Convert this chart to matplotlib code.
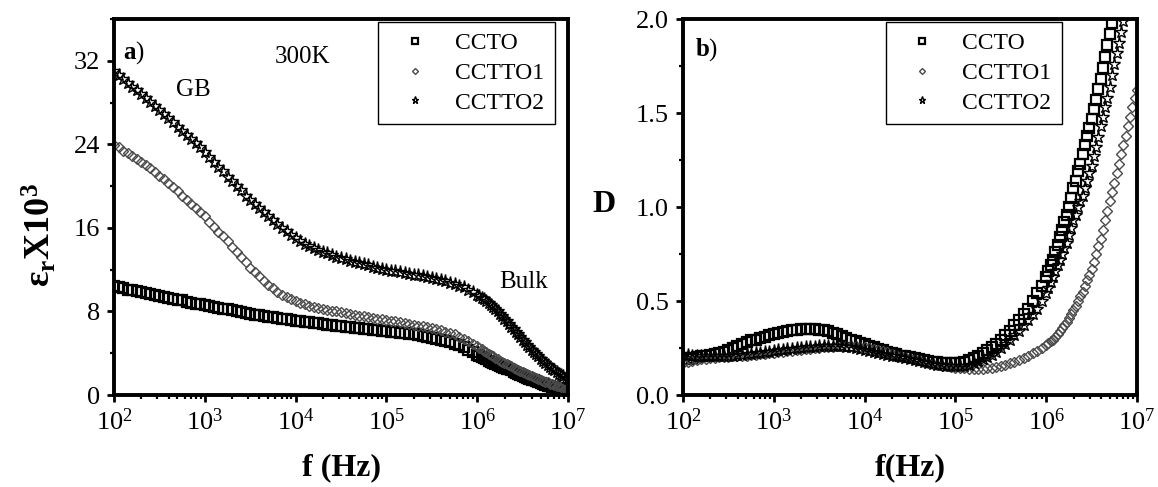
#!/usr/bin/env python3
"""Dielectric constant and loss vs frequency for CCTO, CCTTO1 and CCTTO2 at 300 K."""

from __future__ import annotations

import matplotlib

matplotlib.use("Agg")
import matplotlib.pyplot as plt
import numpy as np
from matplotlib.ticker import LogLocator, MultipleLocator, NullFormatter


# log10 of frequency (Hz); finer sampling above 1 MHz
LOG_F = [
    2.00, 2.05, 2.10, 2.15, 2.20, 2.25, 2.30, 2.35, 2.40, 2.45,
    2.50, 2.55, 2.60, 2.65, 2.70, 2.75, 2.80, 2.85, 2.90, 2.95,
    3.00, 3.05, 3.10, 3.15, 3.20, 3.25, 3.30, 3.35, 3.40, 3.45,
    3.50, 3.55, 3.60, 3.65, 3.70, 3.75, 3.80, 3.85, 3.90, 3.95,
    4.00, 4.05, 4.10, 4.15, 4.20, 4.25, 4.30, 4.35, 4.40, 4.45,
    4.50, 4.55, 4.60, 4.65, 4.70, 4.75, 4.80, 4.85, 4.90, 4.95,
    5.00, 5.05, 5.10, 5.15, 5.20, 5.25, 5.30, 5.35, 5.40, 5.45,
    5.50, 5.55, 5.60, 5.65, 5.70, 5.75, 5.80, 5.85, 5.90, 5.95,
    6.00,
    6.025, 6.05, 6.075, 6.10, 6.125, 6.15, 6.175, 6.20, 6.225, 6.25,
    6.275, 6.30, 6.325, 6.35, 6.375, 6.40, 6.425, 6.45, 6.475, 6.50,
    6.525, 6.55, 6.575, 6.60, 6.625, 6.65, 6.675, 6.70, 6.725, 6.75,
    6.775, 6.80, 6.825, 6.85, 6.875, 6.90, 6.925, 6.95, 6.975, 7.00,
]

LABELS = ["CCTO", "CCTTO1", "CCTTO2"]

# eps_r x 10^3
EPS_CCTO = [
    10.4, 10.3, 10.2, 10.1, 10.05, 9.95, 9.85, 9.75, 9.65, 9.6,
    9.5, 9.4, 9.3, 9.2, 9.1, 9.05, 8.95, 8.85, 8.75, 8.7,
    8.6, 8.5, 8.4, 8.35, 8.25, 8.2, 8.1, 8.0, 7.95, 7.85,
    7.8, 7.7, 7.65, 7.55, 7.5, 7.45, 7.35, 7.3, 7.25, 7.15,
    7.1, 7.05, 7.0, 6.95, 6.9, 6.85, 6.8, 6.75, 6.7, 6.65,
    6.6, 6.55, 6.5, 6.45, 6.4, 6.35, 6.3, 6.25, 6.2, 6.15,
    6.1, 6.05, 6.0, 5.95, 5.9, 5.85, 5.8, 5.7, 5.65, 5.55,
    5.5, 5.4, 5.3, 5.2, 5.05, 4.9, 4.75, 4.55, 4.35, 4.1,
    3.85,
    3.75, 3.6, 3.5, 3.4, 3.3, 3.2, 3.1, 3.0, 2.9, 2.8,
    2.7, 2.6, 2.5, 2.45, 2.35, 2.25, 2.15, 2.05, 1.95, 1.85,
    1.75, 1.65, 1.55, 1.45, 1.4, 1.3, 1.2, 1.15, 1.05, 1.0,
    0.9, 0.85, 0.8, 0.75, 0.7, 0.65, 0.6, 0.55, 0.5, 0.45,
]
EPS_CCTTO1 = [
    23.9, 23.7, 23.4, 23.2, 22.9, 22.6, 22.3, 22.0, 21.7, 21.35,
    21.0, 20.65, 20.3, 19.9, 19.5, 19.1, 18.7, 18.3, 17.9, 17.5,
    17.1, 16.6, 16.1, 15.6, 15.2, 14.7, 14.2, 13.7, 13.2, 12.7,
    12.2, 11.8, 11.35, 10.95, 10.55, 10.2, 9.9, 9.6, 9.4, 9.2,
    9.0, 8.85, 8.7, 8.55, 8.45, 8.35, 8.25, 8.15, 8.05, 8.0,
    7.9, 7.85, 7.75, 7.7, 7.6, 7.55, 7.45, 7.4, 7.3, 7.25,
    7.2, 7.1, 7.05, 6.95, 6.9, 6.8, 6.75, 6.65, 6.6, 6.5,
    6.4, 6.3, 6.2, 6.05, 5.95, 5.8, 5.6, 5.4, 5.2, 4.9,
    4.65,
    4.5, 4.4, 4.25, 4.1, 3.95, 3.8, 3.7, 3.55, 3.45, 3.3,
    3.2, 3.05, 2.95, 2.85, 2.75, 2.6, 2.5, 2.4, 2.3, 2.2,
    2.1, 2.0, 1.9, 1.8, 1.7, 1.6, 1.5, 1.4, 1.35, 1.25,
    1.2, 1.1, 1.05, 1.0, 0.9, 0.85, 0.8, 0.75, 0.7, 0.65,
]
EPS_CCTTO2 = [
    31.0, 30.6, 30.3, 29.9, 29.5, 29.2, 28.8, 28.4, 28.1, 27.7,
    27.3, 26.9, 26.5, 26.1, 25.7, 25.3, 24.9, 24.5, 24.1, 23.7,
    23.3, 22.8, 22.3, 21.8, 21.4, 20.9, 20.5, 20.0, 19.6, 19.1,
    18.7, 18.3, 17.9, 17.5, 17.1, 16.8, 16.4, 16.0, 15.7, 15.3,
    15.0, 14.75, 14.5, 14.3, 14.1, 13.9, 13.7, 13.55, 13.4, 13.25,
    13.1, 13.0, 12.85, 12.75, 12.6, 12.5, 12.4, 12.3, 12.2, 12.1,
    12.0, 11.9, 11.85, 11.75, 11.7, 11.6, 11.5, 11.45, 11.35, 11.3,
    11.2, 11.1, 11.0, 10.9, 10.75, 10.6, 10.45, 10.3, 10.1, 9.85,
    9.6,
    9.45, 9.3, 9.15, 9.0, 8.8, 8.6, 8.4, 8.2, 8.0, 7.8,
    7.55, 7.3, 7.05, 6.8, 6.55, 6.3, 6.05, 5.8, 5.55, 5.3,
    5.05, 4.8, 4.6, 4.35, 4.1, 3.9, 3.7, 3.45, 3.25, 3.05,
    2.85, 2.7, 2.5, 2.35, 2.2, 2.05, 1.9, 1.8, 1.65, 1.55,
]

# loss tangent D
D_CCTO = [
    0.19, 0.19, 0.195, 0.2, 0.205, 0.21, 0.215, 0.22, 0.225, 0.23,
    0.24, 0.25, 0.26, 0.27, 0.28, 0.29, 0.295, 0.305, 0.31, 0.32,
    0.325, 0.33, 0.335, 0.34, 0.345, 0.348, 0.35, 0.352, 0.352, 0.35,
    0.348, 0.345, 0.34, 0.33, 0.325, 0.315, 0.305, 0.295, 0.285, 0.275,
    0.27, 0.26, 0.255, 0.245, 0.24, 0.23, 0.225, 0.22, 0.21, 0.205,
    0.2, 0.195, 0.19, 0.185, 0.18, 0.178, 0.175, 0.172, 0.17, 0.17,
    0.17, 0.172, 0.175, 0.185, 0.195, 0.21, 0.225, 0.24, 0.255, 0.27,
    0.29, 0.32, 0.34, 0.37, 0.40, 0.43, 0.46, 0.50, 0.54, 0.58,
    0.63,
    0.66, 0.69, 0.72, 0.76, 0.8, 0.84, 0.88, 0.92, 0.96, 1.0,
    1.05, 1.1, 1.14, 1.19, 1.23, 1.28, 1.33, 1.38, 1.42, 1.47,
    1.52, 1.57, 1.63, 1.68, 1.74, 1.8, 1.86, 1.92, 1.98, 2.05,
    2.12, 2.2, 2.28, 2.36, 2.44, 2.52, 2.6, 2.7, 2.8, 2.9,
]
D_CCTTO1 = [
    0.17, 0.175, 0.18, 0.185, 0.19, 0.19, 0.195, 0.195, 0.2, 0.2,
    0.2, 0.205, 0.205, 0.21, 0.21, 0.215, 0.215, 0.22, 0.22, 0.225,
    0.225, 0.23, 0.23, 0.235, 0.235, 0.24, 0.24, 0.245, 0.245, 0.25,
    0.25, 0.255, 0.255, 0.255, 0.26, 0.26, 0.26, 0.26, 0.26, 0.255,
    0.255, 0.25, 0.245, 0.24, 0.235, 0.23, 0.22, 0.215, 0.21, 0.2,
    0.195, 0.19, 0.185, 0.178, 0.172, 0.166, 0.16, 0.156, 0.152, 0.148,
    0.145, 0.143, 0.141, 0.14, 0.139, 0.139, 0.14, 0.142, 0.145, 0.15,
    0.155, 0.162, 0.17, 0.178, 0.188, 0.198, 0.21, 0.222, 0.236, 0.25,
    0.266,
    0.275, 0.285, 0.295, 0.31, 0.325, 0.34, 0.355, 0.37, 0.39, 0.41,
    0.43, 0.45, 0.475, 0.5, 0.525, 0.55, 0.58, 0.61, 0.64, 0.67,
    0.71, 0.75, 0.79, 0.83, 0.88, 0.93, 0.98, 1.03, 1.08, 1.13,
    1.18, 1.23, 1.28, 1.33, 1.38, 1.43, 1.48, 1.53, 1.58, 1.62,
]
D_CCTTO2 = [
    0.22, 0.215, 0.21, 0.21, 0.205, 0.205, 0.205, 0.205, 0.205, 0.21,
    0.21, 0.21, 0.215, 0.215, 0.22, 0.22, 0.225, 0.225, 0.23, 0.23,
    0.235, 0.24, 0.24, 0.245, 0.245, 0.25, 0.25, 0.255, 0.255, 0.255,
    0.26, 0.26, 0.26, 0.26, 0.26, 0.26, 0.255, 0.255, 0.25, 0.245,
    0.24, 0.235, 0.23, 0.225, 0.22, 0.215, 0.21, 0.205, 0.2, 0.195,
    0.19, 0.185, 0.18, 0.175, 0.17, 0.165, 0.16, 0.158, 0.155, 0.153,
    0.152, 0.152, 0.155, 0.16, 0.17, 0.18, 0.19, 0.2, 0.215, 0.23,
    0.25, 0.27, 0.29, 0.32, 0.34, 0.37, 0.4, 0.43, 0.46, 0.5,
    0.54,
    0.57, 0.6, 0.63, 0.66, 0.69, 0.72, 0.75, 0.78, 0.81, 0.85,
    0.89, 0.93, 0.96, 1.0, 1.03, 1.06, 1.1, 1.14, 1.18, 1.22,
    1.27, 1.32, 1.37, 1.43, 1.48, 1.53, 1.58, 1.64, 1.7, 1.76,
    1.82, 1.87, 1.93, 1.99, 2.05, 2.12, 2.19, 2.26, 2.33, 2.4,
]

STYLES = [
    dict(marker="s", ms=7.0, mfc="none", mec="black", mew=1.6),
    dict(marker="D", ms=5.5, mfc="none", mec="#4a4a4a", mew=1.0),
    dict(marker="*", ms=9.5, mfc="none", mec="black", mew=1.0),
]

W, H = 1158, 487


def style_axes(ax) -> None:
    ax.set_xscale("log")
    ax.set_xlim(1e2, 1e7)
    ax.xaxis.set_major_locator(LogLocator(base=10, numticks=10))
    ax.xaxis.set_minor_locator(LogLocator(base=10, subs=np.arange(2, 10), numticks=20))
    ax.xaxis.set_minor_formatter(NullFormatter())
    for sp in ax.spines.values():
        sp.set_linewidth(2.8)
    ax.tick_params(which="major", direction="out", length=5, width=2.0,
                   labelsize=19, pad=5, top=False, right=False)
    ax.tick_params(which="minor", direction="out", length=3, width=1.6,
                   top=False, right=False)


def add_legend(ax, handles, x_right: float) -> None:
    leg = ax.legend(handles, LABELS, loc="upper right", bbox_to_anchor=(x_right, 0.992),
                    borderaxespad=0, fontsize=17, fancybox=False, framealpha=1,
                    edgecolor="black", borderpad=0.45, labelspacing=0.35,
                    handlelength=2.2, handletextpad=0.6, markerscale=0.55)
    leg.get_frame().set_linewidth(1.0)


def main() -> None:
    plt.rcParams["font.family"] = ["Liberation Serif", "DejaVu Serif"]
    plt.rcParams["mathtext.fontset"] = "custom"
    plt.rcParams["mathtext.rm"] = "Liberation Serif"
    plt.rcParams["mathtext.bf"] = "Liberation Serif:bold"
    plt.rcParams["mathtext.it"] = "Liberation Serif:italic"

    f = 10.0 ** np.array(LOG_F)
    eps = [EPS_CCTO, EPS_CCTTO1, EPS_CCTTO2]
    loss = [D_CCTO, D_CCTTO1, D_CCTTO2]

    fig = plt.figure(figsize=(W / 100, H / 100), dpi=100)
    ax1 = fig.add_axes([114 / W, 1 - 395 / H, 454 / W, 376 / H])
    ax2 = fig.add_axes([683 / W, 1 - 395 / H, 454 / W, 376 / H])

    # (a) dielectric constant
    h1 = []
    for vals, st in zip(eps, STYLES):
        (ln,) = ax1.plot(f, vals, linestyle="none", **st)
        h1.append(ln)
    style_axes(ax1)
    ax1.set_ylim(0, 36)
    ax1.yaxis.set_major_locator(MultipleLocator(8))
    ax1.yaxis.set_minor_locator(MultipleLocator(4))
    add_legend(ax1, h1, 0.971)
    ax1.text(0.02, 0.912, r"$\mathbf{a}$)", transform=ax1.transAxes, fontsize=18,
             ha="left", va="center")
    ax1.text(0.415, 0.899, "300K", transform=ax1.transAxes, fontsize=18,
             ha="center", va="center")
    ax1.text(0.174, 0.811, "GB", transform=ax1.transAxes, fontsize=18,
             ha="center", va="center")
    ax1.text(0.903, 0.30, "Bulk", transform=ax1.transAxes, fontsize=18,
             ha="center", va="center")

    # (b) loss tangent
    h2 = []
    for vals, st in zip(loss, STYLES):
        (ln,) = ax2.plot(f, vals, linestyle="none", **st)
        h2.append(ln)
    style_axes(ax2)
    ax2.set_ylim(0, 2.0)
    ax2.yaxis.set_major_locator(MultipleLocator(0.5))
    ax2.yaxis.set_minor_locator(MultipleLocator(0.25))
    ax2.yaxis.set_major_formatter(plt.FormatStrFormatter("%.1f"))
    add_legend(ax2, h2, 0.835)
    ax2.text(0.026, 0.92, r"$\mathbf{b}$)", transform=ax2.transAxes, fontsize=18,
             ha="left", va="center")

    # axis titles
    fig.text(40 / W, 1 - 235 / H, r"ε$_\mathbf{r}$X10$^\mathbf{3}$", rotation=90,
             fontsize=26, fontweight="bold", ha="center", va="center")
    fig.text(341 / W, 1 - 468 / H, "f (Hz)", fontsize=23, fontweight="bold",
             ha="center", va="center")
    fig.text(910 / W, 1 - 468 / H, "f(Hz)", fontsize=23, fontweight="bold",
             ha="center", va="center")
    fig.text(604 / W, 1 - 205 / H, "D", fontsize=23, fontweight="bold",
             ha="center", va="center")

    fig.savefig("out.png", dpi=100)
    plt.close(fig)


if __name__ == "__main__":
    main()
